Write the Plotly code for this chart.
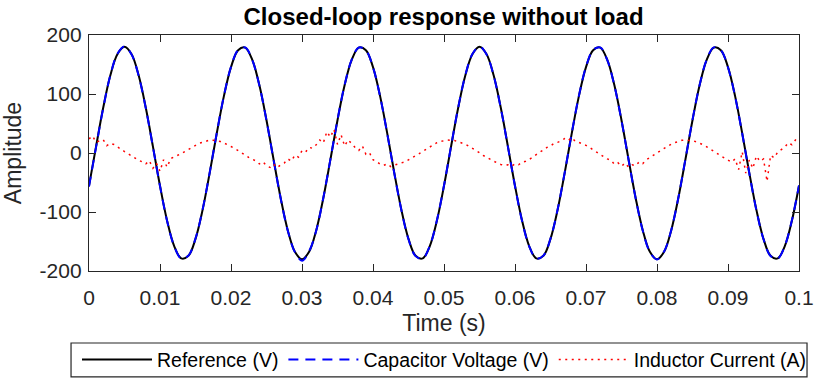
import numpy as np
import plotly.graph_objects as go

# sampling grid (s)
t_v = np.linspace(0, 0.1, 101)
t_i = np.linspace(0, 0.1, 201)

ref_v = [-55.6, 11.3, 76.6, 131.2, 167.4, 180.0, 167.4, 131.2, 76.6, 11.3,
         -55.6, -114.7, -157.7, -178.6, -174.3, -145.6, -96.4, -33.7, 33.7, 96.4,
         145.6, 174.3, 178.6, 157.7, 114.7, 55.6, -11.3, -76.6, -131.2, -167.4,
         -180.0, -167.4, -131.2, -76.6, -11.3, 55.6, 114.7, 157.7, 178.6, 174.3,
         145.6, 96.4, 33.7, -33.7, -96.4, -145.6, -174.3, -178.6, -157.7, -114.7,
         -55.6, 11.3, 76.6, 131.2, 167.4, 180.0, 167.4, 131.2, 76.6, 11.3,
         -55.6, -114.7, -157.7, -178.6, -174.3, -145.6, -96.4, -33.7, 33.7, 96.4,
         145.6, 174.3, 178.6, 157.7, 114.7, 55.6, -11.3, -76.6, -131.2, -167.4,
         -180.0, -167.4, -131.2, -76.6, -11.3, 55.6, 114.7, 157.7, 178.6, 174.3,
         145.6, 96.4, 33.7, -33.7, -96.4, -145.6, -174.3, -178.6, -157.7, -114.7,
         -55.6]

cap_v = [-57.0, 10.5, 76.0, 131.5, 168.0, 180.5, 167.0, 130.5, 75.8, 10.6,
         -56.2, -115.3, -158.0, -179.0, -174.0, -145.0, -95.8, -33.0, 34.2, 96.9,
         146.0, 174.6, 178.9, 157.4, 114.2, 55.0, -12.0, -77.2, -131.7, -168.0,
         -182.5, -166.5, -131.8, -76.0, -10.8, 56.3, 115.2, 158.1, 178.9, 174.0,
         145.2, 95.9, 33.1, -34.4, -97.0, -146.2, -174.8, -179.0, -157.4, -114.1,
         -55.0, 12.0, 77.2, 131.8, 167.9, 180.4, 167.0, 130.8, 76.0, 10.7,
         -56.3, -115.4, -158.2, -179.1, -174.0, -145.1, -95.8, -33.0, 34.3, 97.0,
         146.1, 174.7, 179.0, 157.4, 114.1, 55.0, -12.0, -77.3, -131.9, -167.9,
         -180.4, -167.0, -130.9, -76.1, -10.6, 56.3, 115.4, 158.3, 179.1, 174.0,
         145.0, 95.8, 33.0, -34.4, -97.1, -146.2, -174.7, -179.0, -157.3, -114.0,
         -54.8]

ind_i = [24.0, 29.0, 18.5, 20.0, 22.5, 12.5, 16.5, 14.5, 11.0, 6.5,
         2.5, -1.5, -5.0, -9.0, -12.5, -15.0, -18.5, -13.0, -26.0, -17.5,
         -31.0, -11.5, -24.0, -9.5, -7.0, -4.5, -1.0, 2.5, 6.0, 9.0,
         12.5, 16.5, 18.0, 20.5, 22.0, 21.5, 21.0, 19.5, 17.0, 14.5,
         11.0, 8.0, 4.5, 0.5, -3.5, -7.5, -10.0, -13.5, -18.5, -15.0,
         -21.5, -24.5, -19.0, -25.0, -20.0, -17.0, -10.0, -13.5, -3.5, -7.0,
         4.0, 1.5, 9.5, 8.0, 14.0, 22.0, 17.0, 36.0, 27.0, 40.0,
         14.5, 31.0, 12.0, 22.0, 16.0, 9.0, 4.5, 12.0, -2.0, 0.5,
         -11.5, -14.5, -19.0, -21.0, -18.5, -23.0, -20.5, -19.0, -17.5, -15.0,
         -11.5, -8.5, -4.5, -1.0, 3.0, 7.0, 10.5, 14.0, 17.5, 19.5,
         21.0, 22.0, 21.5, 21.0, 19.0, 17.5, 15.0, 11.5, 8.0, 4.0,
         0.5, -4.0, -7.5, -11.0, -14.5, -17.0, -19.5, -21.0, -20.0, -22.5,
         -18.5, -20.0, -15.5, -14.0, -11.0, -6.5, -3.0, 1.5, 5.0, 9.5,
         12.0, 16.5, 18.0, 20.5, 24.5, 21.0, 26.0, 19.5, 18.0, 16.0,
         13.0, 9.5, 6.0, 1.5, -2.5, -6.5, -10.0, -12.0, -19.0, -16.5,
         -22.5, -17.0, -24.0, -20.0, -21.5, -15.0, -18.0, -11.5, -8.0, -4.5,
         0.0, 4.0, 8.0, 12.0, 15.0, 17.5, 20.0, 21.5, 22.0, 21.5,
         21.0, 19.0, 17.0, 14.0, 10.5, 7.0, 3.0, -1.0, -5.0, -9.0,
         -12.5, -15.5, -10.0, -28.0, 2.0, -34.0, -12.0, -26.0, -5.0, -14.0,
         -10.0, -48.0, -4.0, -8.0, 1.5, 6.5, 10.0, 17.5, 14.0, 22.0,
         19.0]

x_ticks = [0, 0.01, 0.02, 0.03, 0.04, 0.05, 0.06, 0.07, 0.08, 0.09, 0.1]
x_labels = ['0', '0.01', '0.02', '0.03', '0.04', '0.05', '0.06', '0.07', '0.08', '0.09', '0.1']
y_ticks = [-200, -100, 0, 100, 200]
y_labels = ['-200', '-100', '0', '100', '200']

fonte = 'Liberation Sans, Arial, Helvetica, sans-serif'
cinza = '#262626'

fig = go.Figure()
fig.add_trace(go.Scatter(x=t_v, y=ref_v, mode='lines', name='Reference (V)',
                         line=dict(color='black', width=2, shape='spline')))
fig.add_trace(go.Scatter(x=t_v, y=cap_v, mode='lines', name='Capacitor Voltage (V)',
                         line=dict(color='#0000ff', width=2, dash='10px,7px', shape='spline')))
fig.add_trace(go.Scatter(x=t_i, y=ind_i, mode='lines', name='Inductor Current (A)',
                         line=dict(color='#ff0000', width=1.5, dash='2px,4.5px')))

eixo = dict(showline=True, linecolor=cinza, linewidth=1.3, mirror='ticks',
            ticks='inside', ticklen=7, tickwidth=1.3, tickcolor=cinza,
            showgrid=False, zeroline=False, automargin=False,
            tickfont=dict(family=fonte, size=21, color=cinza))

fig.update_xaxes(eixo, range=[0, 0.1], tickvals=x_ticks, ticktext=x_labels, ticklabelstandoff=8,
                 title=dict(text='Time (s)', font=dict(family=fonte, size=23, color=cinza), standoff=6))
fig.update_yaxes(eixo, range=[-200, 200], tickvals=y_ticks, ticktext=y_labels, ticklabelstandoff=2,
                 title=dict(text='Amplitude', font=dict(family=fonte, size=23, color=cinza), standoff=17))

# caixa da legenda desenhada a parte (legenda do plotly fica mais alta)
fig.add_shape(type='rect', xref='paper', yref='paper',
              x0=-0.0253, x1=1.0113, y0=-0.449, y1=-0.305,
              line=dict(color=cinza, width=1.2), fillcolor='white', layer='below')

fig.update_layout(
    width=814, height=378,
    margin=dict(l=89, r=15, t=35, b=107, autoexpand=False),
    paper_bgcolor='white', plot_bgcolor='white',
    title=dict(text='<b>Closed-loop response without load</b>', x=0.5449, xanchor='center',
               y=0.956, yref='container', yanchor='middle',
               font=dict(family=fonte, size=24, color='black')),
    legend=dict(orientation='h', x=-0.0169, xanchor='left',
                y=-0.376, yanchor='middle',
                borderwidth=0, bgcolor='rgba(0,0,0,0)',
                font=dict(family=fonte, size=19.5, color='black'), itemwidth=70),
    showlegend=True,
)

# tira a margem de 8px do body para a figura ocupar a janela toda
fig.write_html('out.html', config={'displayModeBar': False},
               post_script="document.body.style.margin='0px';")
